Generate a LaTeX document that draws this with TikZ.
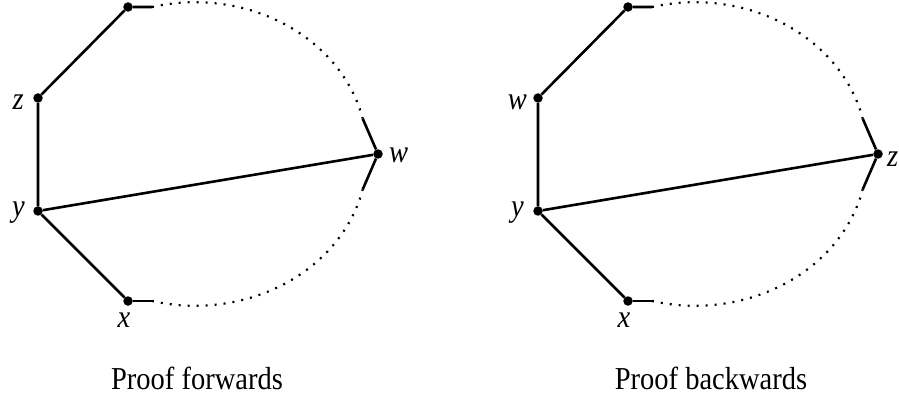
\documentclass[tikz,border=0pt]{standalone}
\usepackage{fontspec}
\setmainfont{Liberation Serif}
\usetikzlibrary{positioning}

\begin{document}
\begin{tikzpicture}[
    x=1pt, y=1pt,
    vertex/.style={circle, fill=black, inner sep=0pt, minimum size=9.5pt},
    lbl/.style={font=\fontsize{28.5}{32}\selectfont\itshape, inner sep=0pt, yscale=1.12, transform shape},
    edge/.style={line width=2.6pt},
    dots/.style={line width=2.2pt, dash pattern=on 2pt off 7pt},
    caption/.style={font=\fontsize{28.5}{32}\selectfont, inner sep=0pt, anchor=base, yscale=1.12, transform shape},
  ]
  \useasboundingbox (0,0) rectangle (899,402);

  % proof forwards
  \node[vertex] (tl) at (128,395) {};
  \node[vertex] (zl) at (38,304) {};
  \node[vertex] (yl) at (38,191) {};
  \node[vertex] (xl) at (128,101) {};
  \node[vertex] (wl) at (378,248) {};
  \node[lbl, anchor=base east] (zl-lbl) at (24,292) {z};
  \node[lbl, anchor=base east] (yl-lbl) at (25,185) {y};
  \node[lbl, anchor=base] (xl-lbl) at (124,75) {x};
  \node[lbl, anchor=base west] (wl-lbl) at (389,239) {w};
  \coordinate (tlEnd) at (152,395);
  \coordinate (xlEnd) at (152,101);
  \draw[edge] (xl) -- (yl) -- (zl) -- (tl) -- (tlEnd);
  \draw[edge] (xl) -- (xlEnd);
  \draw[edge] (yl) -- (wl);
  \draw[dots] (tlEnd) arc[start angle=104.5, end angle=13, x radius=172, y radius=150] coordinate (wlUp);
  \draw[dots] (xlEnd) arc[start angle=-104.5, end angle=-13, x radius=172, y radius=150] coordinate (wlDn);
  \draw[edge] (wlUp) -- (wl) -- (wlDn);
  \node[caption] (capl) at (197,13) {Proof forwards};

  % proof backwards
  \node[vertex] (tr) at (628,395) {};
  \node[vertex] (wr) at (538,304) {};
  \node[vertex] (yr) at (538,191) {};
  \node[vertex] (xr) at (628,101) {};
  \node[vertex] (zr) at (878,248) {};
  \node[lbl, anchor=base east] (wr-lbl) at (527,292) {w};
  \node[lbl, anchor=base east] (yr-lbl) at (524,185) {y};
  \node[lbl, anchor=base] (xr-lbl) at (624,75) {x};
  \node[lbl, anchor=base west] (zr-lbl) at (887,235) {z};
  \coordinate (trEnd) at (652,395);
  \coordinate (xrEnd) at (652,101);
  \draw[edge] (xr) -- (yr) -- (wr) -- (tr) -- (trEnd);
  \draw[edge] (xr) -- (xrEnd);
  \draw[edge] (yr) -- (zr);
  \draw[dots] (trEnd) arc[start angle=104.5, end angle=13, x radius=172, y radius=150] coordinate (zrUp);
  \draw[dots] (xrEnd) arc[start angle=-104.5, end angle=-13, x radius=172, y radius=150] coordinate (zrDn);
  \draw[edge] (zrUp) -- (zr) -- (zrDn);
  \node[caption] (capr) at (711,13) {Proof backwards};
\end{tikzpicture}
\end{document}
